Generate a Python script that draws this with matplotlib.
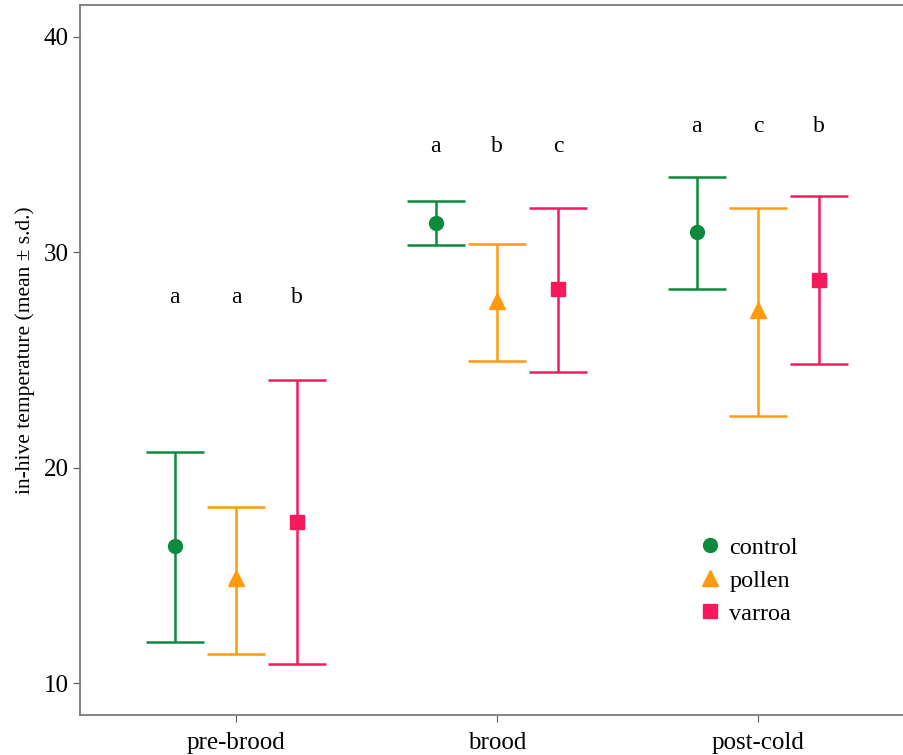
import matplotlib.pyplot as plt
import numpy as np

plt.rcParams['font.family'] = ['Liberation Serif', 'DejaVu Serif']

# groups and treatments
categories = ["pre-brood", "brood", "post-cold"]
treatments = ["control", "pollen", "varroa"]

# means and error bar ends (mean ± s.d.)
means = {
    "control": [16.36, 31.35, 30.93],
    "pollen": [14.87, 27.73, 27.31],
    "varroa": [17.47, 28.28, 28.70],
}
upper = {
    "control": [20.72, 32.37, 33.48],
    "pollen": [18.17, 30.37, 32.04],
    "varroa": [24.06, 32.04, 32.60],
}
lower = {
    "control": [11.90, 30.33, 28.28],
    "pollen": [11.35, 24.94, 22.39],
    "varroa": [10.88, 24.43, 24.80],
}

# significance letters
letters = {
    "pre-brood": ["a", "a", "b"],
    "brood": ["a", "b", "c"],
    "post-cold": ["a", "c", "b"],
}
letter_y = [27.9, 34.9, 35.85]

colors = {"control": "#0d8a3c", "pollen": "#ff9a0a", "varroa": "#f7195c"}
markers = {"control": "o", "pollen": "^", "varroa": "s"}
msize = {"control": 10, "pollen": 11, "varroa": 9.5}

fig = plt.figure(figsize=(9.04, 7.55), dpi=100)
ax = fig.add_axes([80 / 904, 40 / 755, 1 - 80 / 904, 710 / 755])

x = np.arange(1, len(categories) + 1)
offset = 0.235

for i, t in enumerate(treatments):
    xs = x + (i - 1) * offset
    m = np.array(means[t])
    yerr = [m - np.array(lower[t]), np.array(upper[t]) - m]
    ax.errorbar(xs, m, yerr=yerr, fmt='none', ecolor=colors[t],
                elinewidth=1.8, capsize=21, capthick=1.8, zorder=2)
    ax.plot(xs, m, linestyle='none', marker=markers[t], color=colors[t],
            markersize=msize[t], label=t, zorder=3)

for j, c in enumerate(categories):
    for i, lab in enumerate(letters[c]):
        ax.text(x[j] + (i - 1) * offset, letter_y[j], lab, ha='center',
                va='center', fontsize=17)

ax.set_xlim(0.402, 3.56)
ax.set_ylim(8.52, 41.48)
ax.set_xticks(x)
ax.set_xticklabels(categories, fontsize=18)
ax.set_yticks([10, 20, 30, 40])
ax.tick_params(axis='y', labelsize=18, length=5, color='#555555', pad=3)
ax.tick_params(axis='x', length=5, color='#555555', pad=7)
ax.set_ylabel("in-hive temperature (mean ± s.d.)", fontsize=15.5)
ax.yaxis.set_label_coords(-0.055, 0.514)

for s in ['left', 'top', 'bottom']:
    ax.spines[s].set_color('#7a7a7a')
    ax.spines[s].set_linewidth(1.3)
ax.spines['right'].set_visible(False)

ax.legend(loc='upper left', bbox_to_anchor=(0.72, 0.282), frameon=False,
          fontsize=17.5, handletextpad=0.2, labelspacing=0.45,
          handlelength=1.2)

fig.savefig("out.png", dpi=100)
